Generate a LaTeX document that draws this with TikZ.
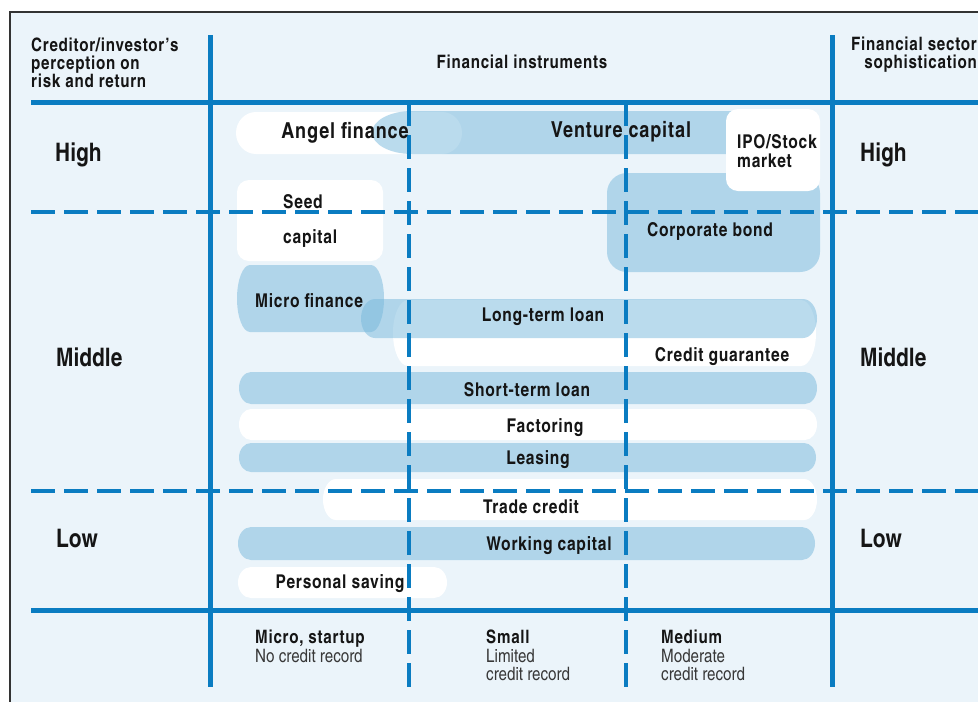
\documentclass[tikz,border=0pt]{standalone}
\usepackage{fontspec}
\setmainfont{texgyreheroscn}[Extension=.otf, UprightFont=*-regular, BoldFont=*-bold, ItalicFont=*-italic, BoldItalicFont=*-bolditalic]
\newfontfamily\trk{texgyreheroscn-bold.otf}[LetterSpace=4]
\usepackage{tikz}

\definecolor{gridblue}{HTML}{0A7CC1}
\definecolor{panel}{HTML}{EBF4FA}
\definecolor{barblue}{HTML}{77B8DC}
\definecolor{ink}{HTML}{151515}

% bar with elliptic ends: style, left, top, right, bottom, end radius
\newcommand{\pill}[6]{\fill[#1] ({#2+#6},#3) -- ({#4-#6},#3)
  arc[start angle=-90, end angle=90, x radius=#6, y radius={(#5-#3)/2}] -- ({#2+#6},#5)
  arc[start angle=90, end angle=270, x radius=#6, y radius={(#5-#3)/2}] -- cycle;}

\begin{document}
\begin{tikzpicture}[x=1pt, y=-1pt,
  bar/.style={fill=barblue, fill opacity=0.5},
  gap/.style={fill=white},
  rule/.style={draw=gridblue, line width=5pt},
  dashrule/.style={draw=gridblue, line width=3.5pt, dash pattern=on 24pt off 9pt},
  head/.style={font=\trk\fontsize{18.5}{18}\selectfont, text=ink, inner sep=0pt},
  note/.style={font=\fontsize{18.5}{18}\selectfont, text=ink!85, inner sep=0pt, align=left},
  level/.style={font=\bfseries\fontsize{25.5}{28}\selectfont, text=ink, inner sep=0pt, anchor=base west},
  lab/.style={font=\trk\fontsize{19}{19}\selectfont, text=ink, inner sep=0pt, anchor=base},
  labtop/.style={font=\trk\fontsize{22}{19}\selectfont, text=ink, inner sep=0pt, anchor=base}]
\useasboundingbox (0,0) rectangle (978,702);

% frame
\fill[panel] (10,12) rectangle (1000,720);
\draw[line width=1.5pt, black!80] (10,720) -- (10,12) -- (1000,12);

% bars
\pill{gap}{236}{112}{462}{154}{20}
\pill{bar}{372}{111}{816}{154}{40}
\fill[bar, rounded corners=20] (607,173) rectangle (820,272);
\fill[gap, rounded corners=12] (726,109) rectangle (820,191);
\fill[gap, rounded corners=12] (237,180) rectangle (383,261);
\pill{bar}{237}{265}{384}{332}{13}
\pill{gap}{393}{300}{816}{366}{15}
\pill{bar}{361}{299}{817}{338}{14}
\pill{bar}{239}{372}{817}{404}{12}
\pill{gap}{239}{409}{817}{440}{12}
\pill{bar}{239}{443}{816}{472}{12}
\pill{gap}{323}{479}{817}{520}{13}
\pill{bar}{238}{527}{815}{560}{13}
\pill{gap}{238}{567}{447}{598}{13}

% grid
\draw[dashrule] (31,212) -- (978,212);
\draw[dashrule] (31,491) -- (978,491);
\draw[dashrule] (409,102) -- (409,692);
\draw[dashrule] (626,102) -- (626,692);
\draw[rule] (210,35) -- (210,687);
\draw[rule] (832,35) -- (832,687);
\draw[rule] (31,102) -- (978,102);
\draw[rule] (31,610) -- (978,610);

\path (31,87) node[head, anchor=base west, align=left] (risk) {Creditor/investor’s\\perception on\\risk and return}
      (522,68) node[head, anchor=base] (instr) {Financial instruments}
      (977,68) node[head, anchor=base east, align=right] (sector) {Financial sector\\sophistication};

\path (55,161) node[level] (highl) {High}
      (860,161) node[level] (highr) {High}
      (56,366) node[level] (midl) {Middle}
      (860,366) node[level] (midr) {Middle}
      (56,547) node[level] (lowl) {Low}
      (860,547) node[level] (lowr) {Low};

\path (345,138) node[labtop] (angel) {Angel finance}
      (621,137) node[labtop] (venture) {Venture capital}
      (737,167) node[lab, anchor=base west, align=left] (ipo) {IPO/Stock\\market}
      (710,236) node[lab] (bond) {Corporate bond}
      (283,208) node[lab, anchor=base west] (seed) {Seed}
      (283,243) node[lab, anchor=base west] (seedcap) {capital}
      (309,307) node[lab] (micro) {Micro finance}
      (543,321) node[lab] (longloan) {Long-term loan}
      (722,361) node[lab] (guarantee) {Credit guarantee}
      (527,396) node[lab] (shortloan) {Short-term loan}
      (545,432) node[lab] (factoring) {Factoring}
      (538,464) node[lab] (leasing) {Leasing}
      (531,513) node[lab] (trade) {Trade credit}
      (549,550) node[lab] (working) {Working capital}
      (340,588) node[lab] (saving) {Personal saving};

\path (255,643) node[head, anchor=base west] (micro size) {Micro, startup}
      (255,662) node[note, anchor=base west] (micro rec) {No credit record}
      (486,643) node[head, anchor=base west] (small size) {Small}
      (486,680) node[note, anchor=base west] (small rec) {Limited\\credit record}
      (661,643) node[head, anchor=base west] (medium size) {Medium}
      (661,680) node[note, anchor=base west] (medium rec) {Moderate\\credit record};
\end{tikzpicture}
\end{document}
